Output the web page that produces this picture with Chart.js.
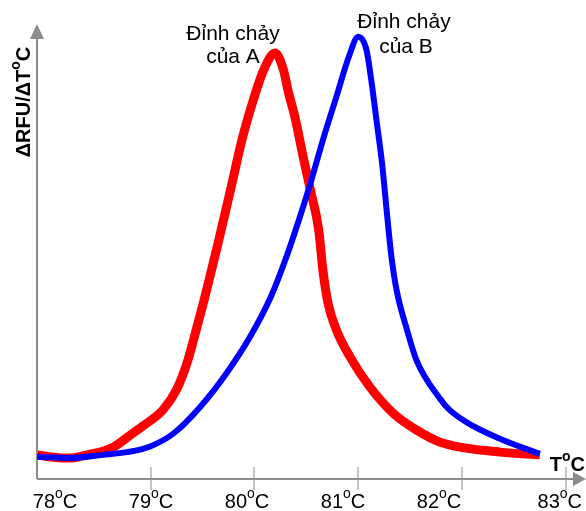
<!DOCTYPE html>
<html>
<head>
<meta charset="utf-8">
<script src="https://cdn.jsdelivr.net/npm/chart.js@4.4.0/dist/chart.umd.min.js"></script>
<style>
  html, body { margin: 0; padding: 0; background: #fff; }
  #wrap { width: 586px; height: 511px; position: relative; }
</style>
</head>
<body>
<div id="wrap"><canvas id="meltChart"></canvas></div>
<script>
// nhiệt độ (°C) và ΔRFU/ΔT (đơn vị tương đối)
var tempA = [77.91, 78.06, 78.22, 78.39, 78.64, 78.83, 78.96, 79.12, 79.25, 79.35, 79.44, 79.54, 79.65, 79.77, 79.88, 79.99, 80.09, 80.20, 80.28, 80.33, 80.39, 80.47, 80.54, 80.62, 80.66, 80.71, 80.79, 80.92, 81.11, 81.34, 81.56, 81.79, 82.37, 82.75];
var rfuA  = [5.3, 4.8, 4.6, 5.3, 7.0, 10.1, 12.2, 15.2, 19.6, 25.4, 32.8, 41.5, 51.8, 63.5, 74.5, 83.3, 89.9, 93.6, 89.9, 84.8, 79.6, 70.8, 63.5, 54.7, 45.9, 38.6, 32.8, 26.9, 20.3, 14.4, 10.8, 8.1, 5.9, 5.3];

var tempB = [77.91, 78.22, 78.54, 78.77, 78.99, 79.22, 79.48, 79.73, 79.96, 80.16, 80.31, 80.44, 80.54, 80.66, 80.79, 80.91, 81.00, 81.08, 81.13, 81.18, 81.23, 81.28, 81.32, 81.37, 81.47, 81.56, 81.79, 81.88, 82.11, 82.37, 82.75];
var rfuB  = [4.9, 4.6, 5.3, 5.9, 7.1, 10.0, 15.9, 23.2, 31.3, 40.1, 48.9, 57.7, 65.0, 74.5, 84.0, 92.8, 97.2, 94.3, 87.0, 78.2, 69.4, 57.7, 48.9, 41.5, 32.8, 26.2, 17.6, 15.2, 11.6, 8.8, 5.5];

var tickTemps = [78, 79, 80, 81, 82, 83];
var peakTextA = ['Đỉnh chảy', 'của A'];
var peakTextB = ['Đỉnh chảy', 'của B'];
var yTitle = ['ΔRFU/ΔT', 'o', 'C'];
var xTitle = ['T', 'o', 'C'];

var FONT = '"Liberation Sans", Arial, sans-serif';

function toPoints(xs, ys) {
  return xs.map(function (x, i) { return { x: x, y: ys[i] }; });
}

// do rong chu co chi so tren (chu "o" nho)
function supWidth(ctx, parts, size, weight) {
  ctx.font = weight + ' ' + size + 'px ' + FONT;
  var w = ctx.measureText(parts[0]).width + ctx.measureText(parts[2]).width;
  ctx.font = weight + ' ' + Math.round(size * 0.7) + 'px ' + FONT;
  return w + ctx.measureText(parts[1]).width;
}

function drawSup(ctx, parts, x, y, size, weight, align) {
  var total = supWidth(ctx, parts, size, weight);
  var sx = align === 'center' ? x - total / 2 : (align === 'right' ? x - total : x);
  ctx.textAlign = 'left';
  ctx.textBaseline = 'alphabetic';
  ctx.font = weight + ' ' + size + 'px ' + FONT;
  var w1 = ctx.measureText(parts[0]).width;
  ctx.fillText(parts[0], sx, y);
  ctx.font = weight + ' ' + Math.round(size * 0.7) + 'px ' + FONT;
  var w2 = ctx.measureText(parts[1]).width;
  ctx.fillText(parts[1], sx + w1, y - size * 0.5);
  ctx.font = weight + ' ' + size + 'px ' + FONT;
  ctx.fillText(parts[2], sx + w1 + w2, y);
}

// truc co mui ten + vach chia
var axesPlugin = {
  id: 'arrowAxes',
  beforeDatasetsDraw: function (chart) {
    var ctx = chart.ctx;
    var a = chart.chartArea;
    var xs = chart.scales.x;
    ctx.save();
    // vach chia
    ctx.strokeStyle = '#c4c4c4';
    ctx.lineWidth = 2;
    tickTemps.forEach(function (t, i) {
      if (i === 0) return;
      var px = Math.round(xs.getPixelForValue(t));
      ctx.beginPath();
      ctx.moveTo(px, a.bottom - 12);
      ctx.lineTo(px, a.bottom + 11);
      ctx.stroke();
    });
    // truc x, truc y
    ctx.strokeStyle = '#8c8c8c';
    ctx.fillStyle = '#8c8c8c';
    ctx.lineWidth = 2;
    ctx.beginPath();
    ctx.moveTo(a.left, a.bottom);
    ctx.lineTo(a.right - 12, a.bottom);
    ctx.moveTo(a.left, a.bottom);
    ctx.lineTo(a.left, a.top + 15);
    ctx.stroke();
    ctx.beginPath();
    ctx.moveTo(a.right - 12, a.bottom - 7);
    ctx.lineTo(a.right + 1, a.bottom);
    ctx.lineTo(a.right - 12, a.bottom + 7);
    ctx.closePath();
    ctx.fill();
    ctx.beginPath();
    ctx.moveTo(a.left - 7, a.top + 15);
    ctx.lineTo(a.left, a.top);
    ctx.lineTo(a.left + 7, a.top + 15);
    ctx.closePath();
    ctx.fill();
    ctx.restore();
  },
  afterDraw: function (chart) {
    var ctx = chart.ctx;
    var a = chart.chartArea;
    var xl = chart.scales.xl;
    var W = chart.width;
    ctx.save();
    ctx.fillStyle = '#000';
    // nhan truc x
    tickTemps.forEach(function (t) {
      var parts = [String(t), 'o', 'C'];
      var w = supWidth(ctx, parts, 20, 'normal');
      var cx = xl.getPixelForValue(t);
      if (t === tickTemps[tickTemps.length - 1]) cx = W - 4 - w / 2;
      drawSup(ctx, parts, cx, a.bottom + 29, 20, 'normal', 'center');
    });
    drawSup(ctx, xTitle, a.right, a.bottom - 8, 20, 'bold', 'right');
    // nhan truc y (xoay)
    ctx.save();
    ctx.translate(30, 102);
    ctx.rotate(-Math.PI / 2);
    drawSup(ctx, yTitle, 0, 0, 20, 'bold', 'center');
    ctx.restore();
    // chu thich dinh
    ctx.font = '21px ' + FONT;
    ctx.textAlign = 'center';
    ctx.textBaseline = 'alphabetic';
    ctx.fillText(peakTextA[0], 233, 40);
    ctx.fillText(peakTextA[1], 233, 63);
    ctx.fillText(peakTextB[0], 404, 28);
    ctx.fillText(peakTextB[1], 406, 53);
    ctx.restore();
  }
};

var ctx = document.getElementById('meltChart').getContext('2d');
window.meltChart = new Chart(ctx, {
  type: 'line',
  data: {
    datasets: [{
      label: 'B',
      data: toPoints(tempB, rfuB),
      borderColor: '#0000ff',
      borderWidth: 6,
      pointRadius: 0,
      cubicInterpolationMode: 'monotone',
      borderJoinStyle: 'round',
      fill: false,
      clip: 0
    }, {
      label: 'A',
      data: toPoints(tempA, rfuA),
      borderColor: '#ff0000',
      borderWidth: 9,
      pointRadius: 0,
      cubicInterpolationMode: 'monotone',
      borderJoinStyle: 'round',
      fill: false,
      clip: 0
    }]
  },
  options: {
    responsive: true,
    maintainAspectRatio: false,
    animation: false,
    layout: { padding: { left: 37, right: 1, top: 24, bottom: 32 } },
    plugins: { legend: { display: false }, tooltip: { enabled: false } },
    scales: {
      x: { type: 'linear', display: false, min: 77.906, max: 83.185 },
      xl: { type: 'linear', axis: 'x', display: false, min: 77.8125, max: 83.5208 },
      y: { type: 'linear', display: false, min: 0, max: 100 }
    }
  },
  plugins: [axesPlugin]
});
</script>
</body>
</html>
